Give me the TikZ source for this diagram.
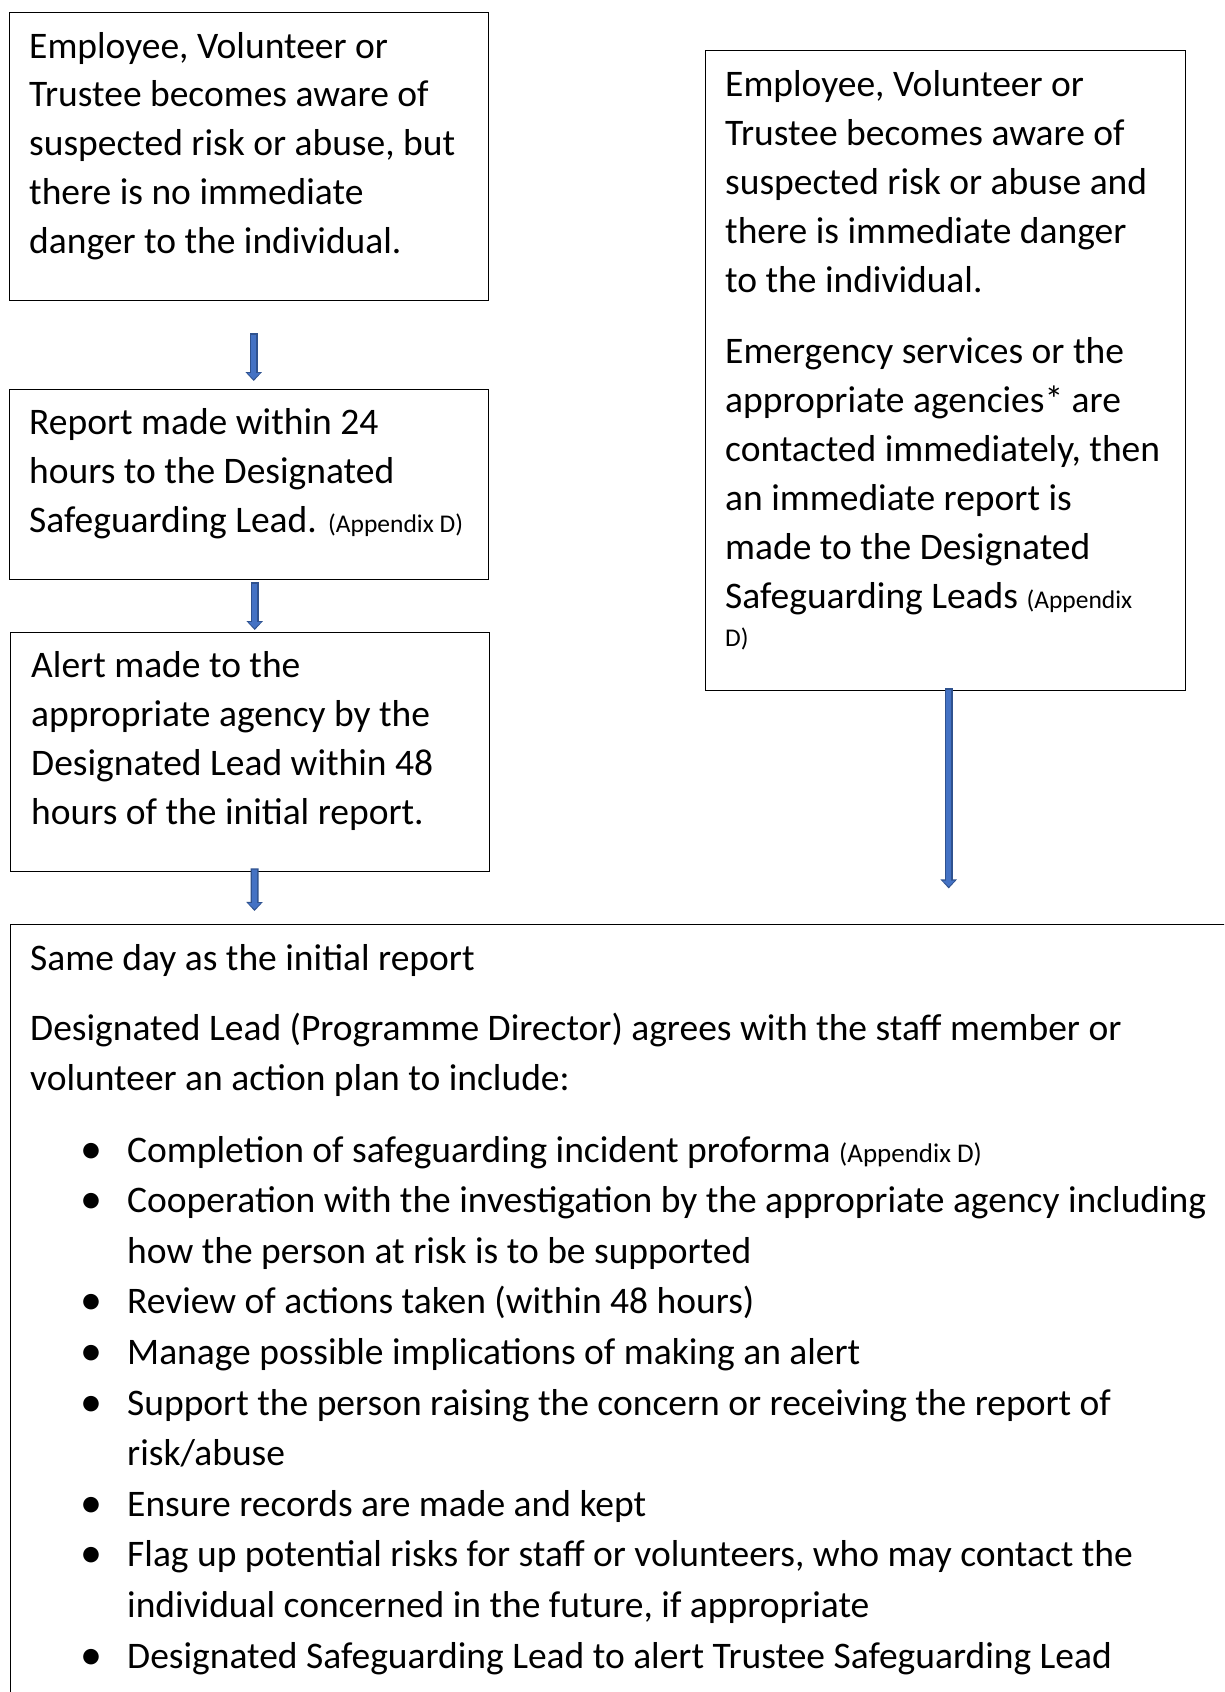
\documentclass[tikz,border=0pt]{standalone}
\usepackage{fontspec}
\setmainfont{Carlito}
\usetikzlibrary{arrows.meta,calc}
\definecolor{arrowblue}{HTML}{4472C4}
\definecolor{arrowedge}{HTML}{2F528F}
\newcommand\appsmall{\fontsize{25.5}{30}\selectfont}
\newcommand\appsmallb{\fontsize{27}{30}\selectfont}
\newcommand\bulletmark{\makebox[0pt]{\fontsize{44}{44}\selectfont\raisebox{-1pt}{•}}}
\begin{document}
\begin{tikzpicture}[x=1pt,y=-1pt,
  box/.style={draw=black, line width=1.4pt, rectangle, inner sep=0pt, anchor=north west},
  txt/.style={anchor=base west, inner sep=0pt, align=left},
  barrow/.style={line width=8pt, draw=arrowedge, -{Triangle[width=16pt,length=9pt]}},
  barrowin/.style={line width=5pt, draw=arrowblue, shorten <=1.3pt, shorten >=1.8pt, -{Triangle[width=12pt,length=6pt]}}]
\clip (0,0) rectangle (1224,1692);
\fill[white] (0,0) rectangle (1224,1692);
% boxes
\node[box, minimum width=479pt, minimum height=288pt] (b1) at (9,12) {};
\node[box, minimum width=479pt, minimum height=190pt] (b2) at (9,389) {};
\node[box, minimum width=479pt, minimum height=239pt] (b3) at (10,632) {};
\node[box, minimum width=480pt, minimum height=640pt] (bR) at (705,50) {};
\node[box, minimum width=1300pt, minimum height=900pt] (bB) at (10,924) {};
% texts
\node[txt] (t1) at ($(b1.north west)+(20,46)$) {\parbox[t]{460pt}{\fontsize{37.5}{48.8}\selectfont
Employee, Volunteer or\\
Trustee becomes aware of\\
suspected risk or abuse, but\\
there is no immediate\\
danger to the individual.}};
\node[txt] (t2) at ($(b2.north west)+(20,45)$) {\parbox[t]{460pt}{\fontsize{37.5}{49}\selectfont
Report made within 24\\
hours to the Designated\\
Safeguarding Lead. {\appsmall(Appendix D)}}};
\node[txt] (t3) at ($(b3.north west)+(21,45)$) {\parbox[t]{460pt}{\fontsize{37.5}{49.3}\selectfont
Alert made to the\\
appropriate agency by the\\
Designated Lead within 48\\
hours of the initial report.}};
\node[txt] (tR) at ($(bR.north west)+(20,46)$) {\parbox[t]{460pt}{\fontsize{37.5}{49}\selectfont
Employee, Volunteer or\\
Trustee becomes aware of\\
suspected risk or abuse and\\
there is immediate danger\\
to the individual.\\[22pt]
Emergency services or the\\
appropriate agencies* are\\
contacted immediately, then\\
an immediate report is\\
made to the Designated\\
Safeguarding Leads {\appsmall(Appendix}\\[-10.5pt]
{\appsmall D)}}};
\node[txt] (tB) at ($(bB.north west)+(20,46)$) {\parbox[t]{1200pt}{\fontsize{37.5}{50.3}\selectfont
Same day as the initial report\\[19.7pt]
Designated Lead (Programme Director) agrees with the staff member or\\
volunteer an action plan to include:\\[21.5pt]
\hspace*{61pt}\bulletmark\hspace*{36pt}Completion of safeguarding incident proforma {\appsmallb(Appendix D)}\\[0.3pt]
\hspace*{61pt}\bulletmark\hspace*{36pt}Cooperation with the investigation by the appropriate agency including\\[0.3pt]
\hspace*{97pt}how the person at risk is to be supported\\[0.3pt]
\hspace*{61pt}\bulletmark\hspace*{36pt}Review of actions taken (within 48 hours)\\[0.3pt]
\hspace*{61pt}\bulletmark\hspace*{36pt}Manage possible implications of making an alert\\[0.3pt]
\hspace*{61pt}\bulletmark\hspace*{36pt}Support the person raising the concern or receiving the report of\\[0.3pt]
\hspace*{97pt}risk/abuse\\[0.3pt]
\hspace*{61pt}\bulletmark\hspace*{36pt}Ensure records are made and kept\\[0.3pt]
\hspace*{61pt}\bulletmark\hspace*{36pt}Flag up potential risks for staff or volunteers, who may contact the\\[0.3pt]
\hspace*{97pt}individual concerned in the future, if appropriate\\[0.3pt]
\hspace*{61pt}\bulletmark\hspace*{36pt}Designated Safeguarding Lead to alert Trustee Safeguarding Lead}};
% arrows
\coordinate (a1s) at ($(b1.south)+(4.5,32)$);
\coordinate (a1e) at ($(b2.north)+(4.5,-8)$);
\coordinate (a2s) at ($(b2.south)+(5.5,2)$);
\coordinate (a2e) at ($(b3.north)+(4.5,-2)$);
\coordinate (a3s) at ($(b3.south)+(4.5,-4)$);
\coordinate (a3e) at ($(bB.north west)+(244.5,-13)$);
\coordinate (a4s) at ($(bR.south)+(3,-3)$);
\coordinate (a4e) at ($(bR.south)+(3,197)$);
\foreach \s/\e in {a1s/a1e, a2s/a2e, a3s/a3e, a4s/a4e}{
  \draw[barrow] (\s) -- (\e);
  \draw[barrowin] (\s) -- (\e);
}
\end{tikzpicture}
\end{document}
